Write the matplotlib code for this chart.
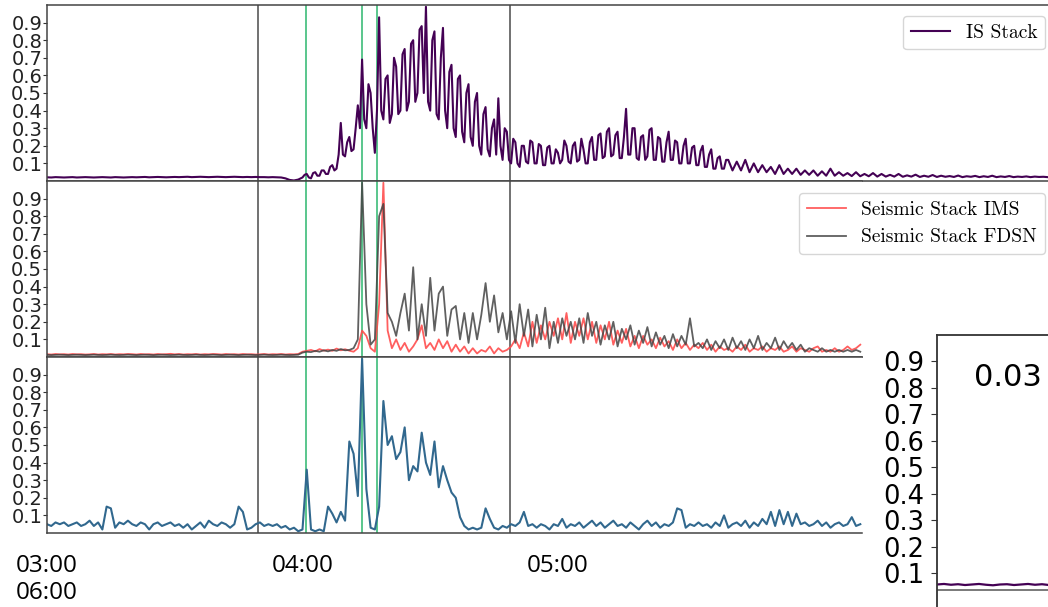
import matplotlib
matplotlib.use("Agg")
import matplotlib.pyplot as plt
import numpy as np

# IS stack: minutes after 03:00; one sample a minute, half-minute steps in the busy part
is_minutes = np.concatenate([np.arange(0, 60), np.arange(60, 160.5, 0.5), np.arange(161, 236)])
is_stack = [
    # 03:00 - 03:59
    0.021, 0.020, 0.022, 0.021, 0.020, 0.021, 0.022, 0.020, 0.021, 0.022,
    0.021, 0.020, 0.021, 0.022, 0.021, 0.020, 0.022, 0.021, 0.020, 0.021,
    0.022, 0.021, 0.022, 0.023, 0.021, 0.022, 0.023, 0.022, 0.021, 0.022,
    0.023, 0.022, 0.023, 0.024, 0.022, 0.023, 0.024, 0.023, 0.022, 0.023,
    0.024, 0.023, 0.022, 0.023, 0.024, 0.023, 0.022, 0.023, 0.022,
    0.023, 0.022, 0.022, 0.021, 0.022, 0.021, 0.020, 0.015, 0.006, 0.003, 0.008,
    # 04:00 - 05:40, every 30 s
    0.020, 0.035, 0.040, 0.020, 0.015, 0.045, 0.050, 0.030, 0.030, 0.060,
    0.060, 0.040, 0.040, 0.080, 0.090, 0.060, 0.070, 0.150, 0.330, 0.150,
    0.140, 0.220, 0.250, 0.170, 0.180, 0.300, 0.430, 0.300, 0.690, 0.350,
    0.300, 0.550, 0.500, 0.300, 0.160, 0.400, 0.930, 0.400, 0.350, 0.580,
    0.600, 0.330, 0.380, 0.700, 0.650, 0.380, 0.400, 0.720, 0.750, 0.400,
    0.450, 0.780, 0.800, 0.450, 0.500, 0.860, 0.880, 0.500, 0.990, 0.450,
    0.400, 0.800, 0.850, 0.380, 0.350, 0.700, 0.870, 0.400, 0.300, 0.620,
    0.660, 0.300, 0.250, 0.580, 0.600, 0.280, 0.220, 0.500, 0.550, 0.250,
    0.200, 0.450, 0.500, 0.200, 0.150, 0.380, 0.420, 0.180, 0.140, 0.300,
    0.350, 0.150, 0.470, 0.200, 0.120, 0.300, 0.280, 0.120, 0.100, 0.240,
    0.220, 0.100, 0.080, 0.200, 0.200, 0.110, 0.100, 0.230, 0.220, 0.100,
    0.100, 0.210, 0.200, 0.090, 0.090, 0.190, 0.200, 0.100, 0.100, 0.180,
    0.160, 0.100, 0.120, 0.230, 0.200, 0.110, 0.100, 0.200, 0.220, 0.110,
    0.120, 0.240, 0.180, 0.100, 0.100, 0.220, 0.250, 0.120, 0.120, 0.260,
    0.270, 0.130, 0.140, 0.280, 0.300, 0.140, 0.150, 0.260, 0.280, 0.130,
    0.130, 0.250, 0.410, 0.150, 0.150, 0.300, 0.300, 0.130, 0.120, 0.250,
    0.260, 0.120, 0.140, 0.290, 0.300, 0.120, 0.120, 0.250, 0.240, 0.110,
    0.110, 0.220, 0.280, 0.120, 0.120, 0.230, 0.220, 0.100, 0.100, 0.200,
    0.240, 0.100, 0.100, 0.190, 0.200, 0.090, 0.090, 0.170, 0.200, 0.080,
    0.080, 0.150, 0.180, 0.070, 0.070, 0.130, 0.140, 0.070, 0.070, 0.120,
    0.120,
    # 05:41 - 06:55
    0.060, 0.110, 0.060, 0.120, 0.050, 0.100, 0.050, 0.090, 0.050,
    0.080, 0.040, 0.090, 0.040, 0.070, 0.040, 0.070, 0.035, 0.060, 0.035,
    0.060, 0.030, 0.055, 0.030, 0.070, 0.030, 0.050, 0.030, 0.045, 0.028,
    0.050, 0.027, 0.040, 0.027, 0.045, 0.025, 0.040, 0.025, 0.035, 0.025,
    0.040, 0.024, 0.032, 0.025, 0.036, 0.023, 0.030, 0.024, 0.034, 0.023,
    0.030, 0.024, 0.028, 0.023, 0.031, 0.022, 0.027, 0.024, 0.029, 0.022,
    0.027, 0.023, 0.030, 0.022, 0.026, 0.023, 0.028, 0.022, 0.025, 0.023,
    0.026, 0.022, 0.025, 0.023, 0.024, 0.022,
]

# seismic and lower stacks: one sample a minute from 03:00
ims_stack = [
    0.016, 0.014, 0.017, 0.015, 0.016, 0.014, 0.017, 0.015, 0.016, 0.014,
    0.015, 0.017, 0.014, 0.016, 0.015, 0.017, 0.014, 0.016, 0.015, 0.017,
    0.016, 0.014, 0.017, 0.015, 0.016, 0.014, 0.017, 0.015, 0.016, 0.018,
    0.015, 0.017, 0.014, 0.016, 0.015, 0.017, 0.014, 0.016, 0.015, 0.017,
    0.016, 0.014, 0.017, 0.015, 0.016, 0.014, 0.017, 0.015, 0.016, 0.014,
    0.015, 0.017, 0.014, 0.016, 0.015, 0.017, 0.014, 0.016, 0.015, 0.017,
    0.030, 0.035, 0.040, 0.032, 0.045, 0.036, 0.042, 0.035, 0.048, 0.038,
    0.044, 0.036, 0.030, 0.050, 0.150, 0.120, 0.050, 0.030, 0.300, 0.990,
    0.150, 0.050, 0.100, 0.040, 0.080, 0.030, 0.060, 0.100, 0.180, 0.050,
    0.080, 0.040, 0.100, 0.050, 0.090, 0.030, 0.070, 0.030, 0.060, 0.020,
    0.050, 0.020, 0.040, 0.030, 0.060, 0.020, 0.050, 0.030, 0.040, 0.060,
    0.100, 0.050, 0.140, 0.060, 0.200, 0.080, 0.180, 0.100, 0.200, 0.120,
    0.220, 0.100, 0.250, 0.080, 0.200, 0.120, 0.220, 0.100, 0.200, 0.080,
    0.180, 0.100, 0.200, 0.070, 0.150, 0.080, 0.160, 0.060, 0.120, 0.050,
    0.120, 0.070, 0.100, 0.050, 0.110, 0.060, 0.090, 0.040, 0.100, 0.050,
    0.080, 0.040, 0.070, 0.050, 0.080, 0.040, 0.070, 0.030, 0.060, 0.040,
    0.050, 0.030, 0.060, 0.040, 0.070, 0.030, 0.050, 0.040, 0.060, 0.030,
    0.050, 0.040, 0.060, 0.030, 0.040, 0.060, 0.030, 0.050, 0.040, 0.030,
    0.050, 0.060, 0.030, 0.040, 0.030, 0.050, 0.030, 0.040, 0.060, 0.040,
    0.050, 0.070,
]

fdsn_stack = [
    0.012, 0.011, 0.012, 0.013, 0.012, 0.011, 0.012, 0.013, 0.012, 0.011,
    0.012, 0.013, 0.012, 0.011, 0.012, 0.013, 0.012, 0.011, 0.012, 0.013,
    0.012, 0.011, 0.012, 0.013, 0.012, 0.011, 0.012, 0.013, 0.012, 0.011,
    0.012, 0.013, 0.012, 0.011, 0.012, 0.013, 0.012, 0.011, 0.012, 0.013,
    0.012, 0.011, 0.012, 0.013, 0.012, 0.011, 0.012, 0.013, 0.012, 0.011,
    0.012, 0.013, 0.012, 0.011, 0.012, 0.013, 0.012, 0.011, 0.012, 0.013,
    0.025, 0.030, 0.028, 0.035, 0.030, 0.038, 0.032, 0.040, 0.035, 0.045,
    0.038, 0.040, 0.050, 0.100, 0.990, 0.300, 0.070, 0.100, 0.800, 0.870,
    0.250, 0.200, 0.120, 0.250, 0.360, 0.150, 0.510, 0.100, 0.300, 0.120,
    0.450, 0.150, 0.360, 0.400, 0.120, 0.270, 0.290, 0.100, 0.250, 0.080,
    0.250, 0.100, 0.240, 0.420, 0.200, 0.350, 0.140, 0.250, 0.100, 0.260,
    0.080, 0.300, 0.120, 0.270, 0.060, 0.240, 0.100, 0.280, 0.050, 0.200,
    0.080, 0.220, 0.120, 0.200, 0.100, 0.220, 0.080, 0.250, 0.120, 0.200,
    0.070, 0.180, 0.100, 0.200, 0.060, 0.160, 0.100, 0.180, 0.070, 0.150,
    0.080, 0.170, 0.060, 0.140, 0.070, 0.120, 0.050, 0.130, 0.060, 0.120,
    0.070, 0.220, 0.060, 0.080, 0.050, 0.100, 0.040, 0.090, 0.050, 0.100,
    0.040, 0.110, 0.050, 0.090, 0.040, 0.100, 0.050, 0.120, 0.040, 0.080,
    0.050, 0.110, 0.040, 0.090, 0.050, 0.080, 0.040, 0.070, 0.030, 0.050,
    0.040, 0.030, 0.050, 0.030, 0.040, 0.030, 0.040, 0.030, 0.040, 0.030,
    0.040, 0.030,
]

local_stack = [
    0.05, 0.04, 0.06, 0.05, 0.06, 0.04, 0.05, 0.06, 0.04, 0.05,
    0.07, 0.04, 0.06, 0.02, 0.15, 0.14, 0.03, 0.06, 0.05, 0.07,
    0.05, 0.04, 0.06, 0.05, 0.02, 0.05, 0.06, 0.04, 0.05, 0.06,
    0.04, 0.05, 0.03, 0.05, 0.02, 0.04, 0.06, 0.03, 0.07, 0.05,
    0.04, 0.06, 0.05, 0.03, 0.05, 0.15, 0.12, 0.02, 0.03, 0.05,
    0.06, 0.04, 0.05, 0.04, 0.05, 0.03, 0.04, 0.02, 0.03, 0.01,
    0.02, 0.36, 0.02, 0.01, 0.02, 0.01, 0.15, 0.11, 0.06, 0.12,
    0.07, 0.52, 0.45, 0.21, 0.99, 0.25, 0.03, 0.02, 0.15, 0.75,
    0.50, 0.55, 0.42, 0.46, 0.60, 0.30, 0.38, 0.35, 0.57, 0.40,
    0.33, 0.52, 0.26, 0.38, 0.30, 0.23, 0.20, 0.09, 0.04, 0.02,
    0.03, 0.02, 0.03, 0.14, 0.08, 0.03, 0.02, 0.04, 0.03, 0.05,
    0.04, 0.06, 0.12, 0.04, 0.05, 0.03, 0.05, 0.04, 0.02, 0.05,
    0.04, 0.08, 0.03, 0.05, 0.04, 0.06, 0.03, 0.05, 0.07, 0.04,
    0.06, 0.03, 0.05, 0.07, 0.04, 0.05, 0.03, 0.06, 0.04, 0.02,
    0.05, 0.07, 0.04, 0.06, 0.03, 0.05, 0.04, 0.06, 0.14, 0.13,
    0.03, 0.05, 0.04, 0.06, 0.04, 0.05, 0.03, 0.06, 0.04, 0.10,
    0.03, 0.05, 0.06, 0.04, 0.07, 0.03, 0.06, 0.04, 0.08, 0.05,
    0.12, 0.04, 0.13, 0.05, 0.12, 0.04, 0.11, 0.05, 0.06, 0.04,
    0.05, 0.07, 0.04, 0.06, 0.03, 0.05, 0.06, 0.04, 0.05, 0.09,
    0.04, 0.05,
]

inset_trace = [0.058, 0.060, 0.057, 0.059, 0.056, 0.058, 0.060, 0.057, 0.055, 0.058,
               0.059, 0.056, 0.058, 0.060, 0.057, 0.059, 0.056, 0.058, 0.057, 0.059]

gray_events = [49.6, 108.7]
green_events = [60.8, 74.0, 77.5]

tick_pos = [0, 60, 120]
tick_labels = ['03:00\n06:00', '04:00', '05:00']
y_ticks = [0.1, 0.2, 0.3, 0.4, 0.5, 0.6, 0.7, 0.8, 0.9]

W, H = 1048, 607
fig = plt.figure(figsize=(W / 100, H / 100), dpi=100)


def box(x0, y0, x1, y1):
    return [x0 / W, 1 - y1 / H, (x1 - x0) / W, (y1 - y0) / H]


ax1 = fig.add_axes(box(47, 5, 1048, 181))
ax2 = fig.add_axes(box(47, 181, 862, 357))
ax3 = fig.add_axes(box(47, 357, 862, 533))

ax1.plot(is_minutes, is_stack, color='#440154', lw=1.5, label='IS Stack')
ax2.plot(np.arange(len(ims_stack)), ims_stack, color='#ff4d4d', lw=1.3, alpha=0.9,
         label='Seismic Stack IMS')
ax2.plot(np.arange(len(fdsn_stack)), fdsn_stack, color='#444444', lw=1.3, alpha=0.85,
         label='Seismic Stack FDSN')
ax3.plot(np.arange(len(local_stack)), local_stack, color='#31688e', lw=1.5)

ax1.set_xlim(0, 235.1)
for ax in (ax2, ax3):
    ax.set_xlim(0, 191.4)

for ax in (ax1, ax2, ax3):
    ax.set_ylim(0, 1)
    for x in gray_events:
        ax.axvline(x, color='#666666', lw=1.3, zorder=1)
    for x in green_events:
        ax.axvline(x, color='#4cc283', lw=1.3, zorder=1)
    ax.set_yticks(y_ticks)
    ax.set_yticklabels([str(v) for v in y_ticks])
    ax.tick_params(axis='y', length=3, pad=0.5, labelsize=14, colors='#333333',
                   labelcolor='#222222')
    ax.tick_params(axis='x', length=0)
    ax.spines['right'].set_visible(False)
    for s in ('left', 'top', 'bottom'):
        ax.spines[s].set_color('#444444')
        ax.spines[s].set_linewidth(1.1)

ax1.set_xticks([])
ax2.set_xticks([])
ax3.set_xticks(tick_pos)
ax3.set_xticklabels(tick_labels, fontfamily='Open Sans', fontsize=17.5, ha='center')
ax3.tick_params(axis='x', pad=15)

leg_font = {'family': 'cmr10', 'size': 14}
ax1.legend(loc='upper right', bbox_to_anchor=(1045 / W, 1 - 16 / H),
           bbox_transform=fig.transFigure, borderaxespad=0, prop=leg_font)
ax2.legend(loc='upper right', bbox_to_anchor=(1045 / W, 1 - 193 / H),
           bbox_transform=fig.transFigure, borderaxespad=0, prop=leg_font)

# small panel on the right
ax4 = fig.add_axes(box(937, 335, 1070, 607))
ax4.set_ylim(-0.027, 1.0)
ax4.set_xlim(0, len(inset_trace) - 1)
ax4.plot(np.arange(len(inset_trace)), inset_trace, color='#440154', lw=1.6)
ax4.axhline(0.036, color='#555555', lw=1.1)
ax4.set_yticks(y_ticks)
ax4.set_yticklabels([str(v) for v in y_ticks])
ax4.tick_params(axis='y', length=4, pad=5, labelsize=18.5, colors='#333333',
                labelcolor='black')
ax4.set_xticks([])
for s in ('right', 'bottom'):
    ax4.spines[s].set_visible(False)
for s in ('left', 'top'):
    ax4.spines[s].set_color('#333333')
    ax4.spines[s].set_linewidth(1.3)
fig.text(1008 / W, 1 - 377 / H, '0.03', ha='center', va='center', fontsize=22)

fig.savefig('out.png', dpi=100)
